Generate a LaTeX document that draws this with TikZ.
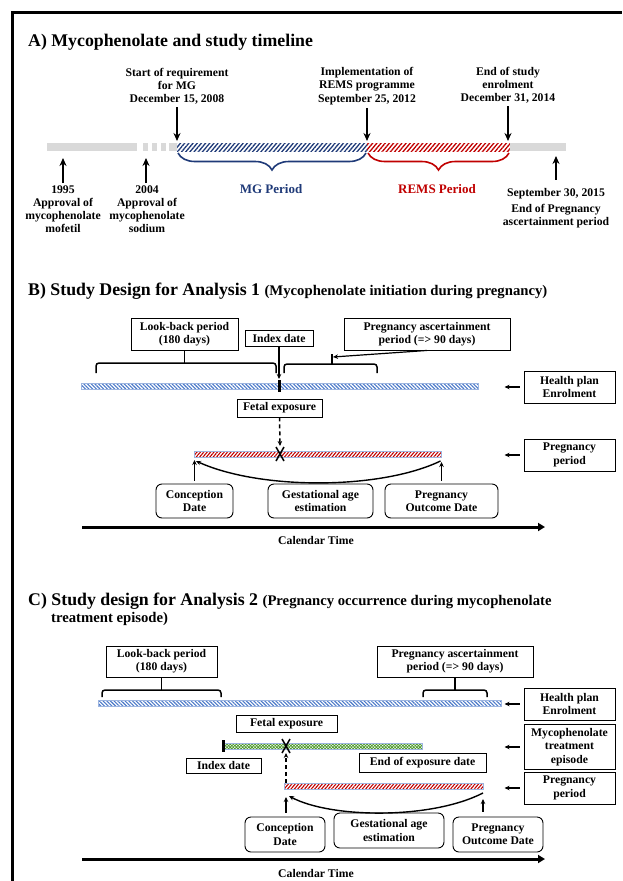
\documentclass[tikz,border=0pt]{standalone}
\usepackage{fontspec}
\setmainfont{Liberation Serif}
\usetikzlibrary{arrows.meta,patterns.meta,decorations.pathreplacing}
\definecolor{navy}{HTML}{1F3A78}
\definecolor{remsred}{HTML}{C00000}
\definecolor{bargrey}{HTML}{D9D9D9}
\definecolor{hpblue}{HTML}{4A78C8}
\definecolor{edgeblue}{HTML}{9DB5E0}
\definecolor{treatgreen}{HTML}{4E9A2E}
\tikzset{
  txt/.style={font=\fontsize{11.7}{13.2}\selectfont\bfseries, align=center, inner sep=0pt},
  ttl/.style={font=\fontsize{17.8}{20}\selectfont\bfseries, anchor=base west, inner sep=0pt},
  sub/.style={font=\fontsize{13}{15}\selectfont\bfseries, inner sep=0pt},
  box/.style={txt, draw, line width=0.9pt, inner sep=2pt},
  rbox/.style={box, rounded corners=6pt},
  arrA/.style={-{Stealth[length=8pt,width=7pt]}, line width=1.8pt},
  arrS/.style={-{Stealth[length=5pt,width=4.5pt]}, line width=1.2pt},
  dsh/.style={arrS, line width=1.5pt, dash pattern=on 4pt off 3pt},
  brk/.style={line width=1.5pt, rounded corners=3pt},
  hatchA/.style={pattern={Lines[angle=50,distance=3.2pt,line width=1.3pt]}, pattern color=#1},
  hpbar/.style={draw=edgeblue, line width=0.6pt, pattern={Lines[angle=-45,distance=2.6pt,line width=1.1pt]}, pattern color=hpblue},
  pgbar/.style={draw=edgeblue, line width=0.6pt, pattern={Lines[angle=50,distance=2.6pt,line width=1.1pt]}, pattern color=remsred},
  trbar/.style={draw=edgeblue, line width=0.6pt, pattern={Hatch[angle=45,distance=2.2pt,line width=0.8pt]}, pattern color=treatgreen},
  axis/.style={line width=3pt, -{Triangle[length=7pt,width=8pt]}},
  xmark/.style={line width=1.5pt}
}
\begin{document}
\begin{tikzpicture}[x=1pt,y=-1pt]
\useasboundingbox (0,0) rectangle (622,881);
\draw[line width=3pt] (12,881) -- (12,12) -- (622,12);

\node[ttl] (ttlA) at (28,46) {A) Mycophenolate and study timeline};
\fill[bargrey] (47,143) rectangle (137,151);
\foreach \x in {143,152,161}
  \fill[bargrey] (\x,143) rectangle ++(5,8);
\fill[bargrey] (169,143) rectangle (177,151);
\path[hatchA=navy] (177,143) rectangle (367,151);
\path[hatchA=remsred] (367,143) rectangle (510,151);
\fill[bargrey] (510,143) rectangle (566,151);
\coordinate (t08) at (177,141);
\coordinate (t12) at (367,141);
\coordinate (t14) at (508,141);
\coordinate (t95) at (63,158);
\coordinate (t04) at (146,158);
\coordinate (t15) at (556,156);
\node[txt] (lab08) at (177,86) {Start of requirement\\for MG\\December 15, 2008};
\node[txt] (lab12) at (367,86) {Implementation of\\REMS programme\\September 25, 2012};
\node[txt] (lab14) at (508,85) {End of study\\enrolment\\December 31, 2014};
\node[txt] (lab95) at (63,209) {1995\\Approval of\\mycophenolate\\mofetil};
\node[txt] (lab04) at (147,209) {2004\\Approval of\\mycophenolate\\sodium};
\node[txt] (lab15) at (556,208) {September 30, 2015\\[3pt]End of Pregnancy\\ascertainment period};
\draw[arrA, shorten <=3pt] (lab08.south -| t08) -- (t08);
\draw[arrA, shorten <=3pt] (lab12.south -| t12) -- (t12);
\draw[arrA, shorten <=3pt] (lab14.south -| t14) -- (t14);
\draw[arrA, shorten <=2pt] (lab95.north -| t95) -- (t95);
\draw[arrA, shorten <=2pt] (lab04.north -| t04) -- (t04);
\draw[arrA, shorten <=8pt] (lab15.north -| t15) -- (t15);
\draw[navy, line width=1.6pt, decorate, decoration={brace, mirror, amplitude=17pt}] (178,153) -- (366,153);
\draw[remsred, line width=1.6pt, decorate, decoration={brace, mirror, amplitude=17pt}] (368,153) -- (509,153);
\node[sub, text=navy] (mg) at (271,189) {MG Period};
\node[sub, text=remsred] (rems) at (437,189) {REMS Period};

\node[ttl] (ttlB) at (28,295) {B) Study Design for Analysis 1 {\fontsize{14.7}{17}\selectfont(Mycophenolate initiation during pregnancy)}};
\node[box, minimum width=107, minimum height=32] (lbB) at (184.5,334) {Look-back period\\(180 days)};
\node[box, minimum width=68, minimum height=16] (idxB) at (279,338) {Index date};
\node[box, minimum width=166, minimum height=32] (paB) at (427,334) {Pregnancy ascertainment\\period (=> 90 days)};
\node[box, minimum width=91, minimum height=32] (hpB) at (569.5,387) {Health plan\\Enrolment};
\node[box, minimum width=85, minimum height=18] (fetB) at (279.5,408) {Fetal exposure};
\node[box, minimum width=91, minimum height=32] (ppB) at (569.5,455) {Pregnancy\\period};
\node[rbox, minimum width=77, minimum height=34] (conB) at (194.5,501) {Conception\\Date};
\node[rbox, minimum width=105, minimum height=34] (gaB) at (320.5,501) {Gestational age\\estimation};
\node[rbox, minimum width=113, minimum height=34] (poB) at (441.5,501) {Pregnancy\\Outcome Date};
\path[hpbar] (81,383) rectangle (478,389);
\path[pgbar] (194,451) rectangle (441,457);
\fill (277.5,380) rectangle (280.5,392);
\draw[xmark] (276,447) -- (284,461) (284,447) -- (276,461);
\coordinate (tkB) at (279,379);
\coordinate (asB) at (333,357);
\coordinate (xB) at (280,446);
\coordinate (csB) at (194.5,460);
\coordinate (peB) at (441.5,462);
\draw[brk] (96,373) |- (276,363) -- (276,373);
\draw[line width=1.5pt] (lbB.south) -- (lbB.south |- 0,363);
\draw[brk] (284,373) |- (377,364) -- (377,373);
\draw[line width=1.5pt] (332,364) -- (332,354);
\draw[arrS] (idxB.south) -- (tkB);
\draw[arrS] (paB.south) -- (asB);
\draw[dsh] (fetB.south) -- (xB);
\draw[arrS, line width=1.4pt] (peB) ++(-1,-1) .. controls (380,490) and (260,490) .. (196,461);
\draw[arrS, shorten <=3pt] (conB.north) -- (csB);
\draw[arrS, shorten <=3pt] (poB.north) -- (peB);
\draw[arrS, shorten <=4pt] (hpB.west) -- ++(-19,0);
\draw[arrS, shorten <=4pt] (ppB.west) -- ++(-19,0);
\coordinate (a0B) at (82,527);
\coordinate (a1B) at (545,527);
\draw[axis] (a0B) -- (a1B);
\node[txt] (calB) at (316,540) {Calendar Time};

\node[ttl] (ttlC) at (28,605) {C) Study design for Analysis 2 {\fontsize{14.7}{17}\selectfont(Pregnancy occurrence during mycophenolate}};
\node[ttl, font=\fontsize{14.7}{17}\selectfont\bfseries] (ttlC2) at (51,622) {treatment episode)};
\node[box, minimum width=111, minimum height=31] (lbC) at (161.5,661.5) {Look-back period\\(180 days)};
\node[box, minimum width=156, minimum height=31] (paC) at (455,661.5) {Pregnancy ascertainment\\period (=> 90 days)};
\node[box, minimum width=91, minimum height=32] (hpC) at (569.5,704) {Health plan\\Enrolment};
\node[box, minimum width=101, minimum height=17] (fetC) at (286.5,723.5) {Fetal exposure};
\node[box, minimum width=91, minimum height=45] (mtC) at (569.5,747) {Mycophenolate\\treatment\\episode};
\node[box, minimum width=75, minimum height=15] (idxC) at (223.5,765.5) {Index date};
\node[box, minimum width=127, minimum height=19] (eeC) at (422.5,762.5) {End of exposure date};
\node[box, minimum width=91, minimum height=32] (ppC) at (569.5,788) {Pregnancy\\period};
\node[rbox, minimum width=80, minimum height=35] (conC) at (285,834.5) {Conception\\Date};
\node[rbox, minimum width=110, minimum height=35] (gaC) at (389,830.5) {Gestational age\\estimation};
\node[rbox, minimum width=90, minimum height=35] (poC) at (498,834.5) {Pregnancy\\Outcome Date};
\path[hpbar] (98,700) rectangle (501,706);
\path[trbar] (223,743) rectangle (422,749);
\fill (221.5,740) rectangle (224.5,752);
\path[pgbar] (284,783) rectangle (483,789);
\draw[xmark] (282,739) -- (290,753) (290,739) -- (282,753);
\coordinate (xC) at (286,753);
\coordinate (pgC) at (286,783);
\coordinate (csC) at (286,797);
\coordinate (peC) at (483,799);
\draw[brk] (102,697) |- (221,690) -- (221,697);
\draw[line width=1.5pt] (lbC.south) -- (lbC.south |- 0,690);
\draw[brk] (423,697) |- (487,690) -- (487,697);
\draw[line width=1.5pt] (paC.south) -- (paC.south |- 0,690);
\draw[dsh] (pgC) -- (xC);
\draw[arrS, line width=1.4pt] (483,793) .. controls (430,820) and (330,818) .. (289,796);
\draw[arrS, shorten <=4pt] (conC.north -| csC) -- (csC);
\draw[arrS, shorten <=5pt] (poC.north -| peC) -- (peC);
\draw[arrS, shorten <=4pt] (hpC.west) -- ++(-19,0);
\draw[arrS, shorten <=4pt] (mtC.west) -- ++(-19,0);
\draw[arrS, shorten <=4pt] (ppC.west) -- ++(-19,0);
\coordinate (a0C) at (82,859);
\coordinate (a1C) at (545,859);
\draw[axis] (a0C) -- (a1C);
\node[txt] (calC) at (316,873) {Calendar Time};
\end{tikzpicture}
\end{document}
